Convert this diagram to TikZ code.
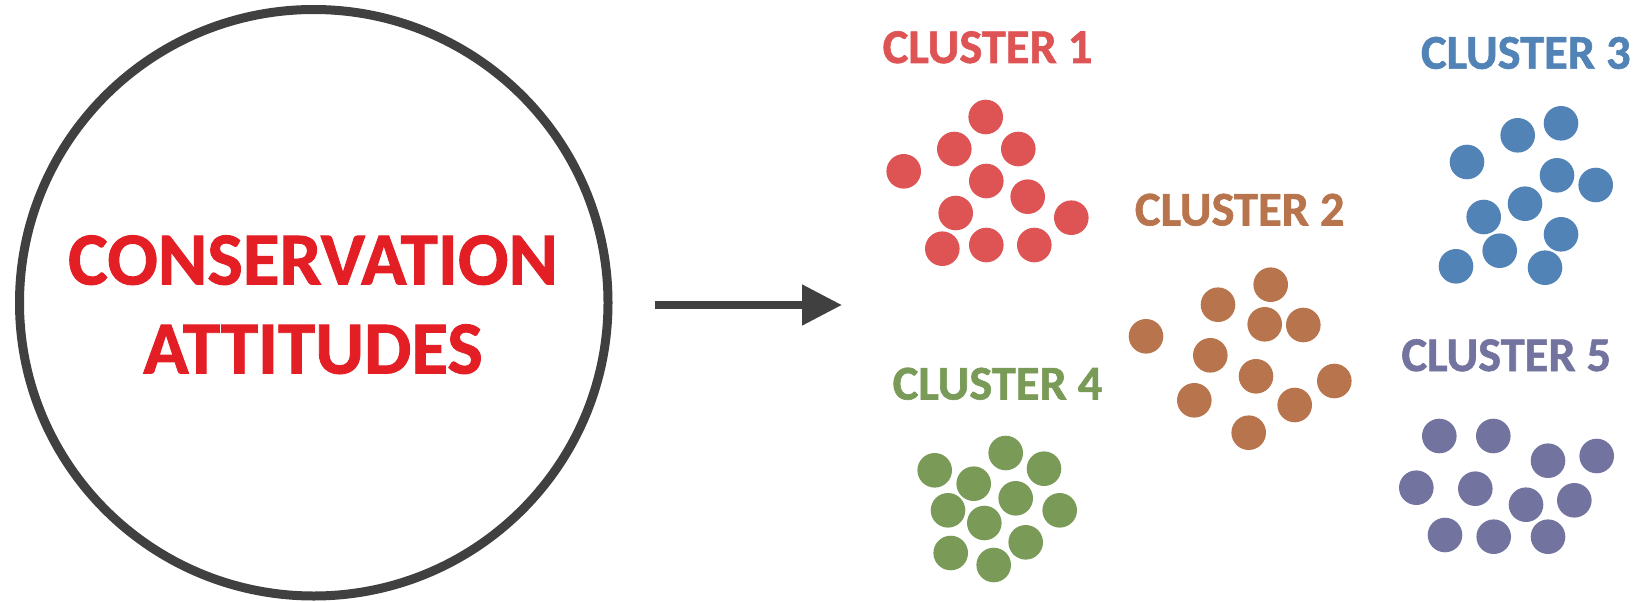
\documentclass[tikz,border=0pt]{standalone}
\usepackage{fontspec}
\setmainfont{Carlito}
\newfontfamily\heavyfont{Carlito}[UprightFont=*-Bold, FakeBold=1.2]
\usetikzlibrary{shapes.geometric,arrows.meta}

\definecolor{outline}{HTML}{404040}
\definecolor{titlered}{HTML}{E31E25}
\definecolor{cred}{HTML}{DE5353}
\definecolor{cbrown}{HTML}{B8744C}
\definecolor{cblue}{HTML}{5283B6}
\definecolor{cgreen}{HTML}{7A9A57}
\definecolor{cpurple}{HTML}{7373A0}

\tikzset{
  bigoval/.style={ellipse, draw=outline, line width=9pt, inner sep=0pt,
    minimum width=588.5pt, minimum height=586.5pt},
  title/.style={inner sep=0pt, text=titlered, align=center,
    font=\heavyfont\fontsize{75}{89}\selectfont},
  flow/.style={draw=outline, line width=8pt,
    -{Triangle[length=40pt,width=39pt]}},
  clabel/.style={anchor=base, inner sep=0pt,
    font=\heavyfont\fontsize{48.5}{58}\selectfont},
  dot/.style={circle, fill=#1, draw=none, minimum size=34.6pt, inner sep=0pt}
}

\begin{document}
\begin{tikzpicture}[x=1pt,y=-1pt]
  \useasboundingbox (0,0) rectangle (1643,602);

  % attitude oval with its caption, and the arrow
  \node[bigoval] (att) at (313.75,302.75) {};
  \node[title] (atttext) at (313,304.7) {CONSERVATION\\ATTITUDES};
  \coordinate (flowstart) at (655,305);
  \coordinate (flowend) at (842,305);
  \draw[flow] (flowstart) -- (flowend);

  % cluster labels
  \node[clabel, text=cred]    (lab1) at (987.5,63)   {CLUSTER 1};
  \node[clabel, text=cbrown]  (lab2) at (1239.7,225.5) {CLUSTER 2};
  \node[clabel, text=cblue]   (lab3) at (1525.8,68.7) {CLUSTER 3};
  \node[clabel, text=cgreen]  (lab4) at (997.5,399.5) {CLUSTER 4};
  \node[clabel, text=cpurple] (lab5) at (1506.3,371) {CLUSTER 5};

  % cluster 1
  \foreach \x/\y [count=\i] in {985.7/117, 954.3/149, 1018.3/149, 903.7/171.3,
      986.3/181, 1027.7/196.7, 955.7/213, 1071.3/217.7, 942.3/248.7,
      986.3/245, 1034.3/245}
    \node[dot=cred] (c1-\i) at (\x,\y) {};

  % cluster 2
  \foreach \x/\y [count=\i] in {1270.7/284.7, 1218/304.7, 1264.7/324.3,
      1303.3/325, 1146/336.3, 1210.3/355.3, 1256/376.3, 1334.3/381,
      1194.3/400.3, 1294.7/405, 1248.7/432.7}
    \node[dot=cbrown] (c2-\i) at (\x,\y) {};

  % cluster 3
  \foreach \x/\y [count=\i] in {1561/123.3, 1517.7/135.3, 1467/162,
      1557/175.3, 1595.7/185, 1525/203.7, 1483.7/217, 1561/234.3,
      1499.7/250.7, 1456/266.3, 1545/267.7}
    \node[dot=cblue] (c3-\i) at (\x,\y) {};

  % cluster 4
  \foreach \x/\y [count=\i] in {1005.7/453, 934.7/470.3, 1044/468.7,
      973.7/483.7, 1015.7/498.3, 948/510.3, 1059.7/510.3, 984.3/523,
      1025.7/542.3, 950.7/553, 993.7/565}
    \node[dot=cgreen] (c4-\i) at (\x,\y) {};

  % cluster 5
  \foreach \x/\y [count=\i] in {1439.3/436, 1493.3/436, 1548/460.7,
      1596.7/456, 1416.3/487.7, 1475.3/488.7, 1526/504.7, 1574.3/500.3,
      1445/535, 1493.7/536.7, 1548/536.7}
    \node[dot=cpurple] (c5-\i) at (\x,\y) {};
\end{tikzpicture}
\end{document}
